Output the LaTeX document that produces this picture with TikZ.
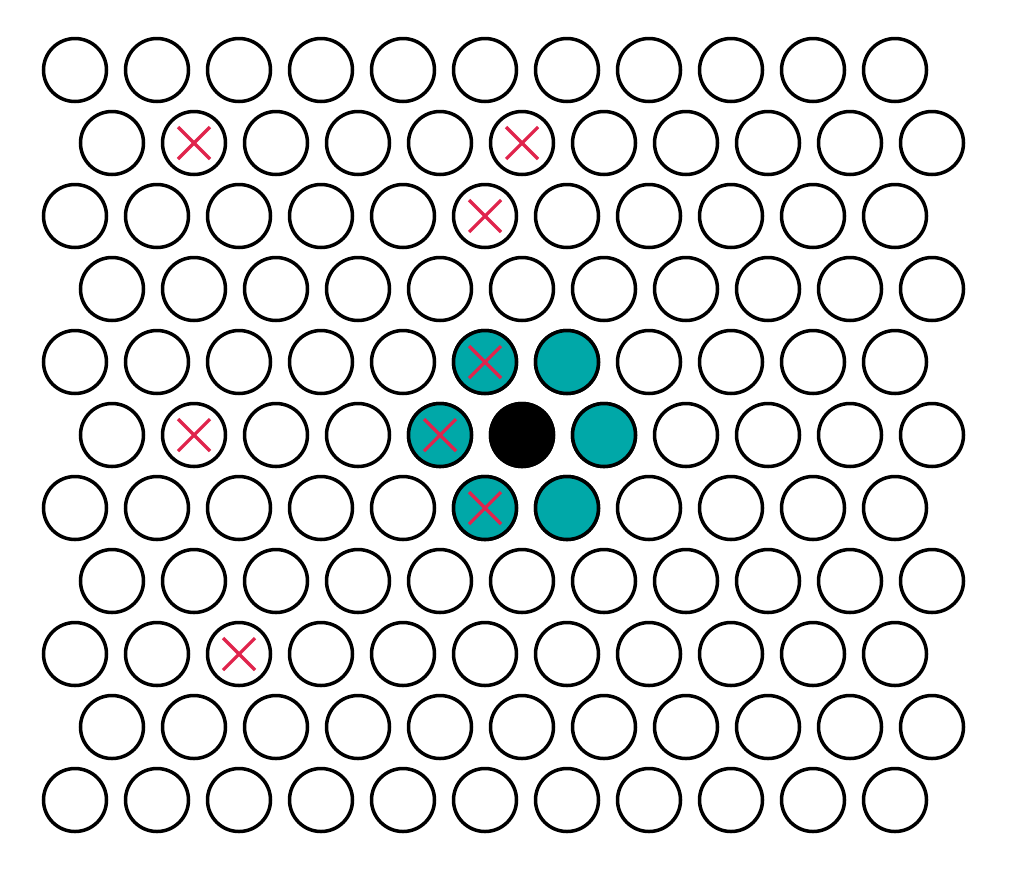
\documentclass[tikz,border=0pt]{standalone}
\definecolor{tealfill}{RGB}{0,168,168}
\definecolor{crossred}{RGB}{224,36,76}
\tikzset{
  ball/.style={circle, draw=black, line width=3.5pt, minimum size=63pt, inner sep=0pt, fill=white},
  tealball/.style={ball, fill=tealfill},
  blackball/.style={ball, fill=black},
  crossline/.style={draw=crossred, line width=3.2pt}
}
\begin{document}
\begin{tikzpicture}[x=1pt,y=-1pt]
\useasboundingbox (0,0) rectangle (1016,868);
\foreach \r in {0,...,10}{
  \foreach \c in {0,...,10}{
    \pgfmathsetmacro{\xx}{75+82*\c+37*mod(\r,2)}
    \pgfmathsetmacro{\yy}{70+73*\r}
    \node[ball] (b-\r-\c) at (\xx,\yy) {};
  }
}
% teal neighbours and black centre
\node[tealball] at (b-4-5) {};
\node[tealball] at (b-4-6) {};
\node[tealball] at (b-5-4) {};
\node[tealball] at (b-5-6) {};
\node[tealball] at (b-6-5) {};
\node[tealball] at (b-6-6) {};
\node[blackball] at (b-5-5) {};
% crosses
\foreach \n in {b-1-1,b-1-5,b-2-5,b-4-5,b-5-1,b-5-4,b-6-5,b-8-2}{
  \draw[crossline] ([shift={(-16,-16)}]\n.center) -- ([shift={(16,16)}]\n.center);
  \draw[crossline] ([shift={(-16,16)}]\n.center) -- ([shift={(16,-16)}]\n.center);
}
\end{tikzpicture}
\end{document}
